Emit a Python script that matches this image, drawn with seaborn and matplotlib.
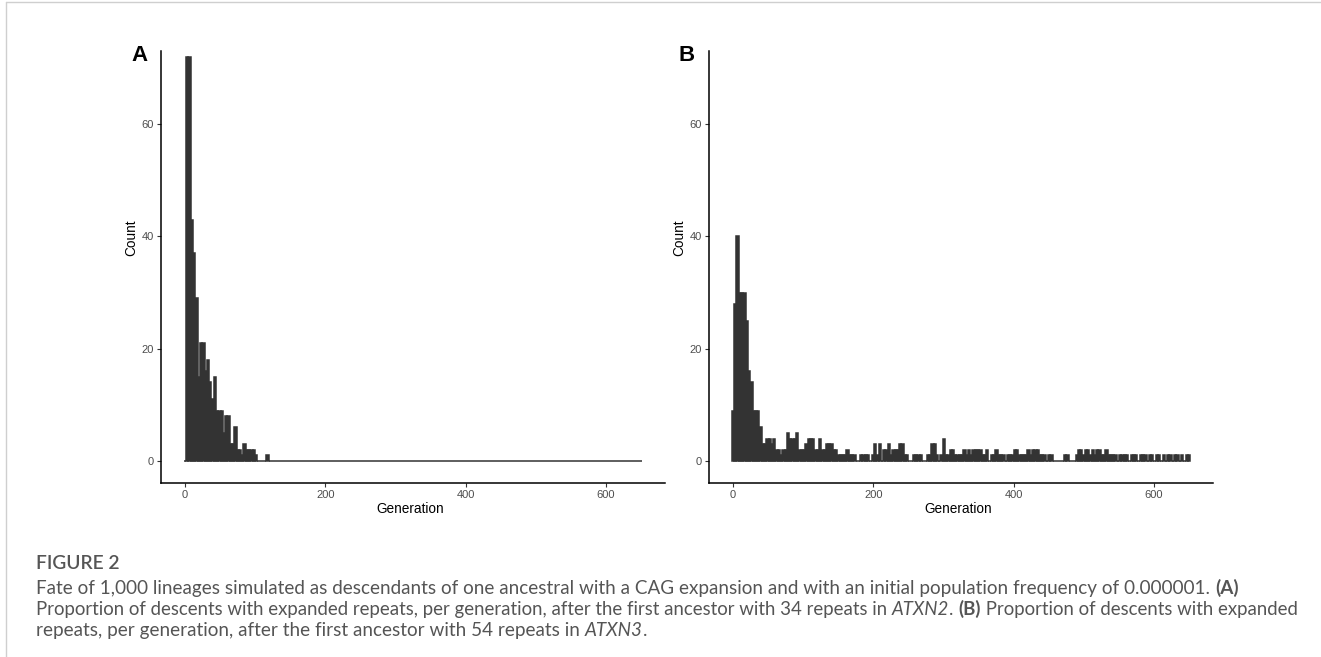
import numpy as np
import pandas as pd
import matplotlib
matplotlib.use("Agg")
import matplotlib.pyplot as plt
import seaborn as sns
from matplotlib.lines import Line2D

# ---------------- data ----------------
N_BINS = 200
MAX_GEN = 650
BIN_W = MAX_GEN / (N_BINS - 1)

# counts per bin (panel A: ATXN2, 34 repeats)
counts_a = [0, 72, 72, 43, 37, 29, 15, 21, 21, 16, 18, 14, 11, 15, 9, 9, 9, 5, 8, 8,
            3, 3, 6, 2, 2, 1, 3, 2, 2, 2, 2, 1, 0, 0, 0, 0, 1] + [0] * 163

# counts per bin (panel B: ATXN3, 54 repeats)
counts_b = [9, 28, 40, 30, 30, 30, 25, 16, 14, 9, 9, 9, 6, 3, 3, 4, 4, 3, 4, 2,
            2, 1, 2, 2, 5, 4, 4, 4, 5, 2, 2, 2, 3, 4, 4, 4, 2, 2, 4, 2,
            2, 3, 3, 3, 2, 2, 1, 1, 1, 1, 2, 1, 1, 1, 0, 0, 1, 1, 1, 1,
            0, 1, 3, 1, 3, 0, 2, 2, 3, 1, 2, 2, 2, 3, 3, 1, 1, 0, 0, 1,
            1, 1, 1, 0, 0, 1, 1, 3, 3, 1, 0, 1, 4, 1, 1, 2, 2, 1, 1, 1,
            1, 2, 1, 2, 1, 2, 2, 2, 2, 1, 1, 2, 0, 1, 1, 2, 1, 1, 1, 0,
            1, 1, 1, 2, 2, 1, 1, 1, 1, 2, 1, 2, 2, 2, 1, 1, 1, 0, 1, 1,
            0, 0, 0, 0, 0, 1, 1, 0, 0, 0, 1, 2, 2, 1, 2, 2, 1, 2, 1, 2,
            2, 1, 1, 2, 1, 1, 1, 1, 0, 1, 1, 1, 1, 0, 1, 1, 1, 0, 1, 1,
            1, 0, 1, 1, 0, 1, 1, 0, 1, 0, 1, 1, 0, 1, 1, 0, 1, 0, 1, 1]

x_ticks = [0, 200, 400, 600]
y_ticks = [0, 20, 40, 60]
panel_labels = ["A", "B"]
x_title = "Generation"
y_title = "Count"

caption_head = "FIGURE 2"
caption_lines = [
    [("Fate of 1,000 lineages simulated as descendants of one ancestral with a CAG expansion "
      "and with an initial population frequency of 0.000001. ", "n"), ("(A)", "b")],
    [("Proportion of descents with expanded repeats, per generation, after the first ancestor "
      "with 34 repeats in ", "n"), ("ATXN2", "i"), (". ", "n"), ("(B)", "b"),
     (" Proportion of descents with expanded", "n")],
    [("repeats, per generation, after the first ancestor with 54 repeats in ", "n"),
     ("ATXN3", "i"), (".", "n")],
]

gens = np.arange(N_BINS) * BIN_W
df = pd.DataFrame({"generation": np.concatenate([gens, gens]),
                   "count": counts_a + counts_b,
                   "panel": ["A"] * N_BINS + ["B"] * N_BINS})

# ---------------- figure ----------------
W, H = 1321, 657
sns.set_theme(style="white")
plt.rcParams["font.family"] = ["Liberation Sans", "DejaVu Sans"]

fig = plt.figure(figsize=(W / 100, H / 100), dpi=100)
fig.patch.set_facecolor("white")

BAR = "#333333"
ax_left_px = [161, 709]
ax_w_px = 504
ax_top_px, ax_bot_px = 50.7, 483
span = MAX_GEN + BIN_W
pad = 0.05 * span

for i, panel in enumerate(panel_labels):
    ax = fig.add_axes([ax_left_px[i] / W, 1 - ax_bot_px / H, ax_w_px / W,
                       (ax_bot_px - ax_top_px) / H])
    sub = df[df["panel"] == panel]
    sns.histplot(data=sub, x="generation", weights="count", bins=N_BINS,
                 binrange=(-BIN_W / 2, MAX_GEN + BIN_W / 2), ax=ax,
                 color=BAR, edgecolor=BAR, linewidth=1.1, alpha=1)
    ax.set_xlim(-BIN_W / 2 - pad, MAX_GEN + BIN_W / 2 + pad)
    ax.set_ylim(-3.9, 73.05)
    ax.set_xticks(x_ticks)
    ax.set_yticks(y_ticks)
    ax.set_xticklabels([str(t) for t in x_ticks])
    ax.set_yticklabels([str(t) for t in y_ticks])
    for s in ["top", "right"]:
        ax.spines[s].set_visible(False)
    for s in ["left", "bottom"]:
        ax.spines[s].set_color("black")
        ax.spines[s].set_linewidth(1.1)
    ax.tick_params(axis="both", direction="out", length=3, width=0.8,
                   color="#333333", labelcolor="#4d4d4d", labelsize=8, pad=2,
                   left=True, bottom=True)
    ax.set_xlabel(x_title, fontsize=9.8, color="black")
    ax.set_ylabel(y_title, fontsize=9.8, color="black")
    ax.yaxis.set_label_coords((138 - 161) / ax_w_px,
                              (ax_bot_px - 238) / (ax_bot_px - ax_top_px))
    ax.xaxis.set_label_coords(0.495, (ax_bot_px - 502) / (ax_bot_px - ax_top_px))
    ax.grid(False)
    ax.set_facecolor("white")

fig.text(131 / W, 1 - 60.7 / H, panel_labels[0], fontsize=16, fontweight="bold",
         color="black", ha="left", va="baseline")
fig.text(679 / W, 1 - 60.7 / H, panel_labels[1], fontsize=16, fontweight="bold",
         color="black", ha="left", va="baseline")

# frame lines (page border)
fig.add_artist(Line2D([5.5 / W, 1], [1 - 1.5 / H, 1 - 1.5 / H], color="#cfcfcf", lw=1))
fig.add_artist(Line2D([5.5 / W, 5.5 / W], [0, 1 - 1.5 / H], color="#cfcfcf", lw=1))

# ---------------- caption ----------------
CAP = "#555555"
CAP_FAMILY = ["Lato", "DejaVu Sans"]
fig.canvas.draw()
renderer = fig.canvas.get_renderer()


def place(segments, x0, ybase, size, keep=True):
    x = x0
    made = []
    for txt, style in segments:
        kw = dict(fontsize=size, color=CAP, family=CAP_FAMILY, va="baseline", ha="left")
        if style == "b":
            kw["fontweight"] = "bold"
        if style == "i":
            kw["fontstyle"] = "italic"
        t = fig.text(x / W, 1 - ybase / H, txt, **kw)
        x += t.get_window_extent(renderer).width
        made.append(t)
    if not keep:
        for t in made:
            t.remove()
    return x - x0


base = 11.5
targets = [1239 - 36, 1303 - 36]
w1 = place(caption_lines[0], 36, 594, base, keep=False)
size = base * targets[0] / w1
baselines = [594, 615, 636]
for k, segs in enumerate(caption_lines):
    s = size
    if k < 2:
        wk = place(segs, 36, baselines[k], s, keep=False)
        if wk > targets[k] * 1.002:
            s = s * targets[k] / wk
    place(segs, 36, baselines[k], s)

fig.text(36 / W, 1 - 569 / H, caption_head, fontsize=size * 1.02, color=CAP,
         family=CAP_FAMILY, fontweight="semibold", ha="left", va="baseline")

fig.savefig("out.png", dpi=100, facecolor="white")
